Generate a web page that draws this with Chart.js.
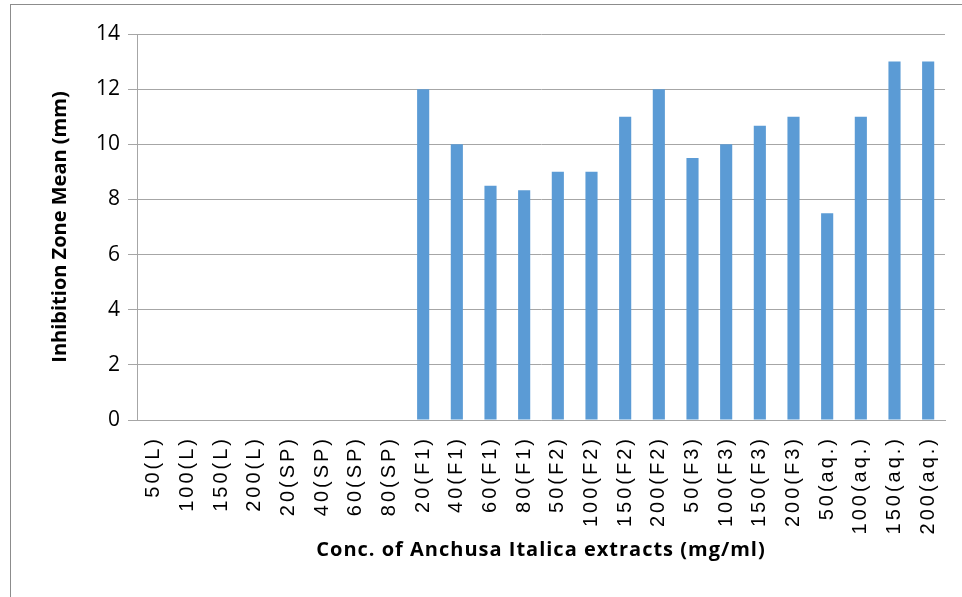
<!DOCTYPE html>
<html>
<head>
<meta charset="utf-8">
<script src="https://cdn.jsdelivr.net/npm/chart.js@4"></script>
<style>
  html, body { margin: 0; padding: 0; background: #fff; }
  #wrap { position: absolute; left: 0; top: 0; width: 962px; height: 597px; }
  #frame { position: absolute; left: 10px; top: 4px; width: 970px; height: 610px; border: 1px solid #8c8c8c; }
  canvas { position: absolute; left: 0; top: 0; }
</style>
</head>
<body>
<div id="wrap">
  <div id="frame"></div>
  <canvas id="myCanvas" width="962" height="597"></canvas>
</div>
<script>
const categories = ['50(L)', '100(L)', '150(L)', '200(L)', '20(SP)', '40(SP)', '60(SP)', '80(SP)',
    '20(F1)', '40(F1)', '60(F1)', '80(F1)', '50(F2)', '100(F2)', '150(F2)', '200(F2)',
    '50(F3)', '100(F3)', '150(F3)', '200(F3)', '50(aq.)', '100(aq.)', '150(aq.)', '200(aq.)'];
const zoneMean = [0, 0, 0, 0, 0, 0, 0, 0,
    12, 10, 8.5, 8.33, 9, 9, 11, 12,
    9.5, 10, 10.67, 11, 7.5, 11, 13, 13];
const yTicks = [0, 2, 4, 6, 8, 10, 12, 14];

// the picture is stretched sideways, so space out the x-axis letters a bit
const spacedText = {
    id: 'spacedText',
    beforeDraw: function (chart) {
        const scale = chart.scales.x;
        if (scale._spaced) return;
        scale._spaced = true;
        const ctx = chart.ctx;
        const drawLabels = scale.drawLabels.bind(scale);
        const drawTitle = scale.drawTitle.bind(scale);
        scale.drawLabels = function (area) {
            ctx.save();
            ctx.letterSpacing = '3px';
            drawLabels(area);
            ctx.restore();
        };
        scale.drawTitle = function () {
            ctx.save();
            ctx.letterSpacing = '1px';
            drawTitle();
            ctx.restore();
        };
    },
};

document.addEventListener('DOMContentLoaded', function () {
    const canvas = document.getElementById('myCanvas');
    const context = canvas.getContext('2d');

    new Chart(context, {
        type: 'bar',
        data: {
            labels: categories,
            datasets: [{
                label: 'Inhibition Zone Mean',
                data: zoneMean,
                backgroundColor: '#5b9bd5',
                borderWidth: 0,
                categoryPercentage: 1,
                barPercentage: 0.36,
            }],
        },
        options: {
            responsive: false,
            animation: false,
            layout: {
                padding: { left: 48, right: 17, top: 34, bottom: 35 }
            },
            plugins: {
                legend: { display: false },
                tooltip: { enabled: false },
            },
            scales: {
                x: {
                    grid: { display: false },
                    border: { display: true, color: '#a6a6a6', width: 1 },
                    ticks: {
                        minRotation: 90,
                        maxRotation: 90,
                        autoSkip: false,
                        color: '#000',
                        padding: 8,
                        font: { family: 'Liberation Sans', size: 20 },
                    },
                    title: {
                        display: true,
                        text: 'Conc. of Anchusa Italica extracts (mg/ml)',
                        color: '#000',
                        font: { family: 'Open Sans', size: 20, weight: 'bold' },
                        padding: { top: 12, bottom: 0 },
                    },
                    afterFit: function (scale) { scale.height = 142; },
                },
                y: {
                    min: 0,
                    max: 14,
                    afterBuildTicks: function (scale) {
                        scale.ticks = yTicks.map(v => ({ value: v }));
                    },
                    grid: { color: '#a6a6a6', tickLength: 9, drawTicks: true },
                    border: { display: true, color: '#a6a6a6', width: 1 },
                    ticks: {
                        color: '#000',
                        padding: 8,
                        font: { family: 'Open Sans', size: 21 },
                    },
                    title: {
                        display: true,
                        text: 'Inhibition Zone Mean (mm)',
                        color: '#000',
                        font: { family: 'Open Sans', size: 20, weight: 'bold' },
                        padding: { top: 0, bottom: 8 },
                    },
                    afterFit: function (scale) { scale.width = 89; },
                },
            },
        },
        plugins: [spacedText],
    });
});
</script>
</body>
</html>
